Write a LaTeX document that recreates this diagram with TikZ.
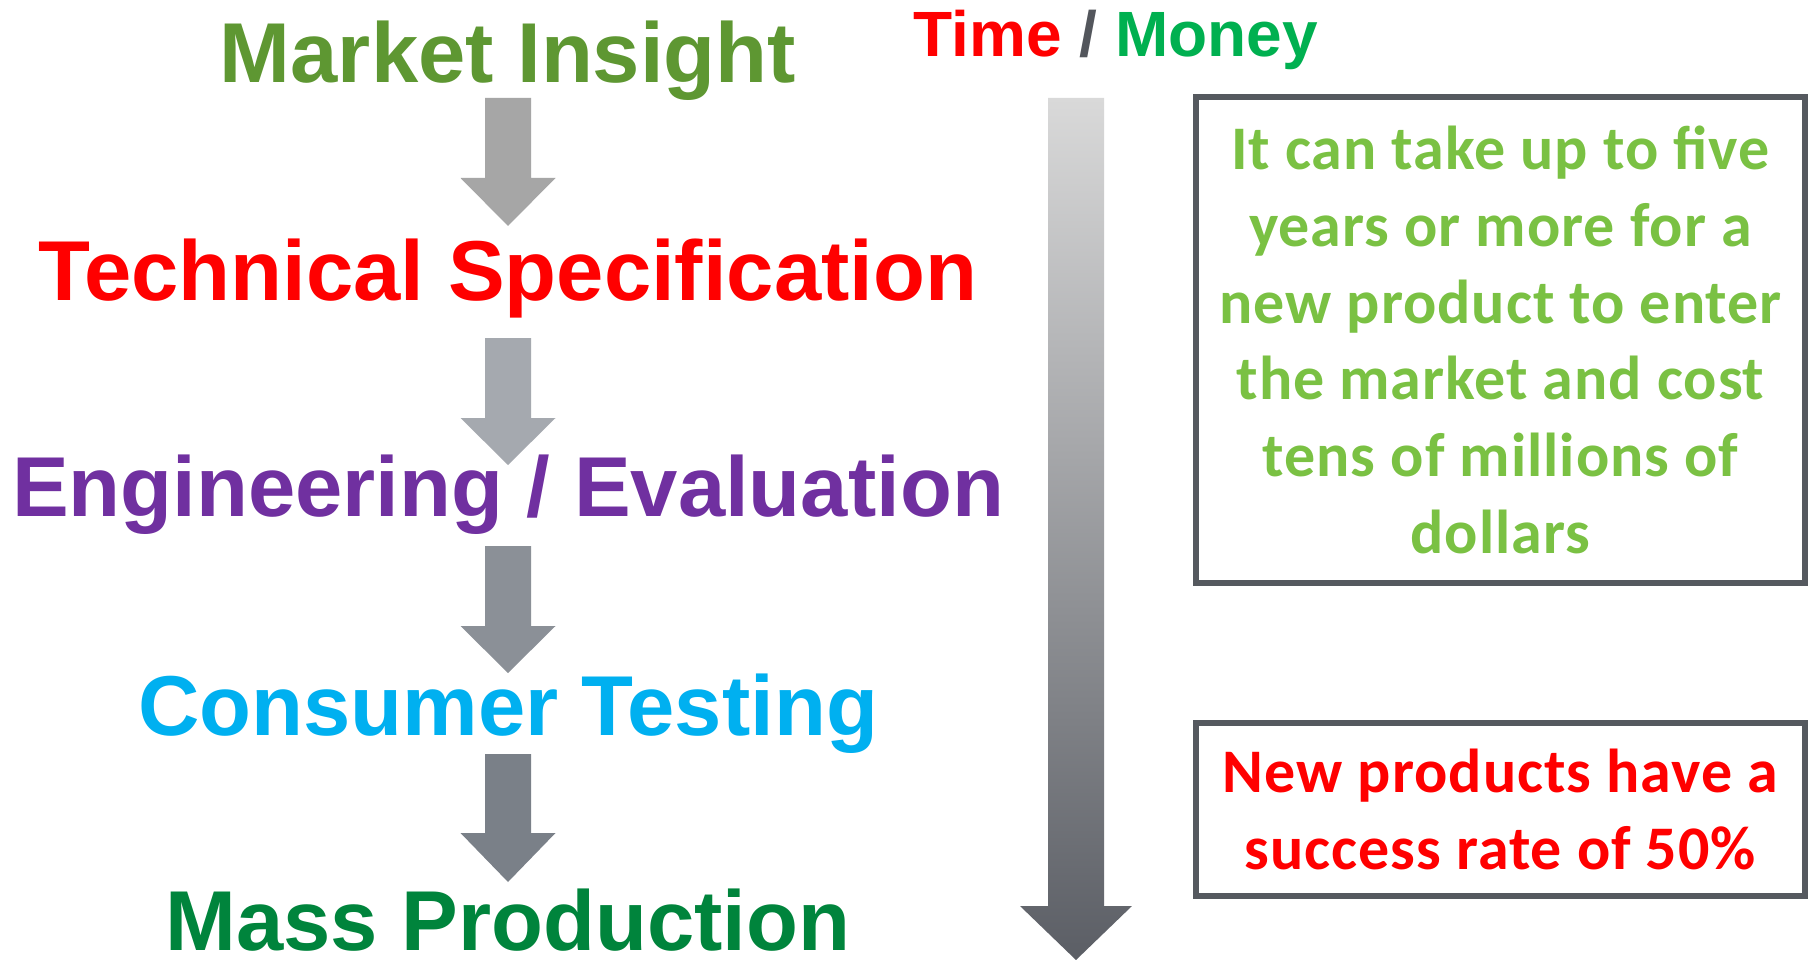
\documentclass[tikz,border=0pt]{standalone}
\usepackage{fontspec}
\setmainfont{Liberation Sans}
\newfontfamily\calibfont[LetterSpace=1.6]{Carlito}
\definecolor{cMI}{RGB}{94,151,50}
\definecolor{cTS}{RGB}{255,0,0}
\definecolor{cEE}{RGB}{112,48,160}
\definecolor{cCT}{RGB}{0,176,240}
\definecolor{cMP}{RGB}{0,132,60}
\definecolor{cMoney}{RGB}{0,176,80}
\definecolor{cSlash}{RGB}{83,86,92}
\definecolor{cBox}{RGB}{85,89,95}
\definecolor{cBoxText}{RGB}{122,193,67}
\definecolor{cA1}{RGB}{166,166,166}
\definecolor{cA2}{RGB}{165,169,175}
\definecolor{cA3}{RGB}{139,144,151}
\definecolor{cA4}{RGB}{122,128,136}
\definecolor{cBigTop}{RGB}{217,217,217}
\definecolor{cBigBot}{RGB}{91,94,101}
% block arrow: x, top, head start, tip, colour
\newcommand\myblockarrow[5]{%
  \fill[#5] ({#1-23},#2) -- ({#1+23},#2) -- ({#1+23},#3) -- ({#1+47.5},#3)
    -- (#1,#4) -- ({#1-47.5},#3) -- ({#1-23},#3) -- cycle;}
\begin{document}
\begin{tikzpicture}[x=1pt,y=-1pt,
  steptext/.style={anchor=base, inner sep=0pt, font=\bfseries\fontsize{85}{100}\selectfont},
  infobox/.style={draw=cBox, line width=6pt, minimum width=609pt, align=center, inner sep=0pt,
    font=\calibfont\bfseries\fontsize{62}{76.7}\selectfont}]
\fill[white] (0,0) rectangle (1808,960);
\useasboundingbox (0,0) rectangle (1808,960);
% steps
\node[steptext, text=cMI] (mi) at (508,83) {Market Insight};
\node[steptext, text=cTS] (ts) at (508,301) {Technical Specification};
\node[steptext, text=cEE] (ee) at (508,516) {Engineering / Evaluation};
\node[steptext, text=cCT] (ct) at (508,735) {Consumer Testing};
\node[steptext, text=cMP] (mp) at (508,950) {Mass Production};
% step arrows
\myblockarrow{508}{98}{178}{226}{cA1}
\myblockarrow{508}{338}{418}{465}{cA2}
\myblockarrow{508}{546}{626}{673}{cA3}
\myblockarrow{508}{754}{833}{882}{cA4}
% time / money
\node[anchor=base, inner sep=0pt, font=\bfseries\fontsize{64}{76}\selectfont] (tm) at (1116,57)
  {\textcolor{cTS}{Time} \textcolor{cSlash}{/} \textcolor{cMoney}{Money}};
% big arrow
\shade[top color=cBigTop, bottom color=cBigBot]
  (1048,98) -- (1104,98) -- (1104,906) -- (1132,906) -- (1076,960) -- (1020,906) -- (1048,906) -- cycle;
% info boxes
\node[infobox, minimum height=486pt, text=cBoxText] (b1) at (1500.5,340)
  {It can take up to five\\years or more for a\\new product to enter\\the market and cost\\tens of millions of\\dollars};
\node[infobox, minimum height=173pt, text=cTS] (b2) at (1500.5,809.5)
  {New products have a\\success rate of 50\%};
\end{tikzpicture}
\end{document}
